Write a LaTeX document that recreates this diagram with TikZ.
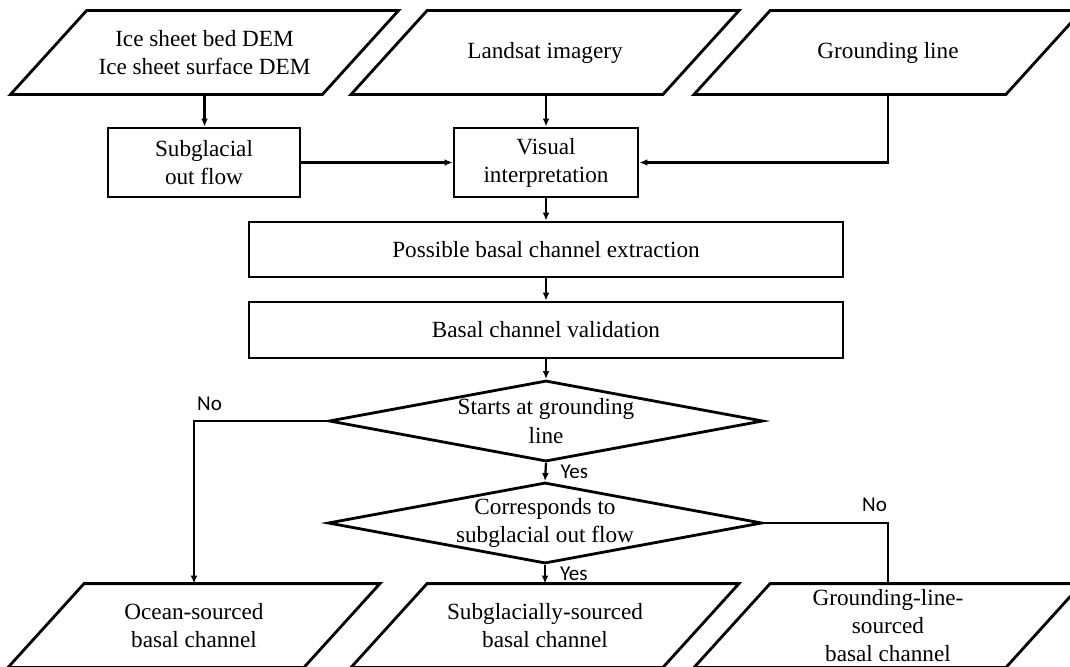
\documentclass[tikz,border=0pt]{standalone}
\usepackage{fontspec}
\setmainfont{Liberation Serif}
\newfontfamily\labelfont{Carlito}
\usetikzlibrary{shapes.geometric,arrows.meta}
\tikzset{base/.style={draw,line width=2pt,align=center,inner sep=0pt,
		font=\fontsize{16.5}{20}\selectfont},
	data/.style={base,draw=none,rectangle,minimum width=7.725cm,minimum height=2.025cm,
		append after command={\pgfextra{\draw[line width=2pt]
			([xshift=-0.95cm]\tikzlastnode.south west) -- ([xshift=-0.95cm]\tikzlastnode.south east)
			-- ([xshift=0.95cm]\tikzlastnode.north east) -- ([xshift=0.95cm]\tikzlastnode.north west)
			-- cycle;}}},
	proc/.style={base,rectangle,minimum height=1.725cm},
	decision/.style={base,diamond,aspect=5.36,inner xsep=-20pt,inner ysep=-12pt,
		minimum width=10.85cm,minimum height=2.025cm},
	arr/.style={line width=1.6pt,-{Latex[length=0.2cm,width=0.17cm]}},
	plain/.style={line width=1.6pt},
	answer/.style={font=\labelfont\fontsize{15}{18}\selectfont,inner sep=0pt}}

\begin{document}
\begin{tikzpicture}
	[x=0.025cm,y=-0.025cm]
	\useasboundingbox (0,0) rectangle (1070,666);
	\clip (0,0) rectangle (1070,666);

	\node [data] (bed) at (204.5,52.5) {Ice sheet bed DEM\\Ice sheet surface DEM};
	\node [data] (landsat) at (545,52.5) {Landsat imagery};
	\node [data] (gline) at (888,52.5) {Grounding line};

	\node [proc,minimum width=4.8cm] (outflow) at (204,162.5) {Subglacial\\out flow};
	\node [proc,minimum width=4.6cm] (visual) at (546,162.5) {Visual\\interpretation};

	\node [proc,minimum width=14.85cm,minimum height=1.375cm] (extract) at (546,249.5)
		{Possible basal channel extraction};
	\node [proc,minimum width=14.85cm,minimum height=1.4cm] (validate) at (546,330)
		{Basal channel validation};

	\node [decision] (startgl) at (546,421) {Starts at grounding\\line};
	\node [decision] (corresp) at (545,523) {Corresponds to\\subglacial out flow};

	\node [data,minimum width=7.325cm] (ocean) at (194,625.5) {Ocean-sourced\\basal channel};
	\node [data] (subsrc) at (545,625.5) {Subglacially-sourced\\basal channel};
	\node [data] (glsrc) at (888,625.5) {Grounding-line-\\sourced\\basal channel};

	\draw [arr] (bed.south) -- (bed.south |- outflow.north);
	\draw [arr] (landsat.south -| visual.north) -- (visual.north);
	\draw [arr] (outflow.east) -- (visual.west);
	\draw [arr] (gline.south) |- (visual.east);
	\draw [arr] (visual.south) -- (extract.north);
	\draw [arr] (extract.south) -- (validate.north);
	\draw [arr] (validate.south) -- (startgl.north);
	\draw [arr] (startgl.south) -- node [answer,anchor=west,xshift=0.35cm] {Yes} (corresp.north);
	\draw [arr] (corresp.south) -- node [answer,anchor=west,xshift=0.35cm] {Yes} (subsrc.north);
	\draw [arr] (startgl.west) -| node [answer,pos=0.5,anchor=south west,xshift=0.05cm,yshift=0.22cm] {No}
		(ocean.north);
	\draw [plain] (corresp.east) -| node [answer,pos=0.5,anchor=south east,yshift=0.26cm] {No}
		(glsrc.north);
\end{tikzpicture}
\end{document}
